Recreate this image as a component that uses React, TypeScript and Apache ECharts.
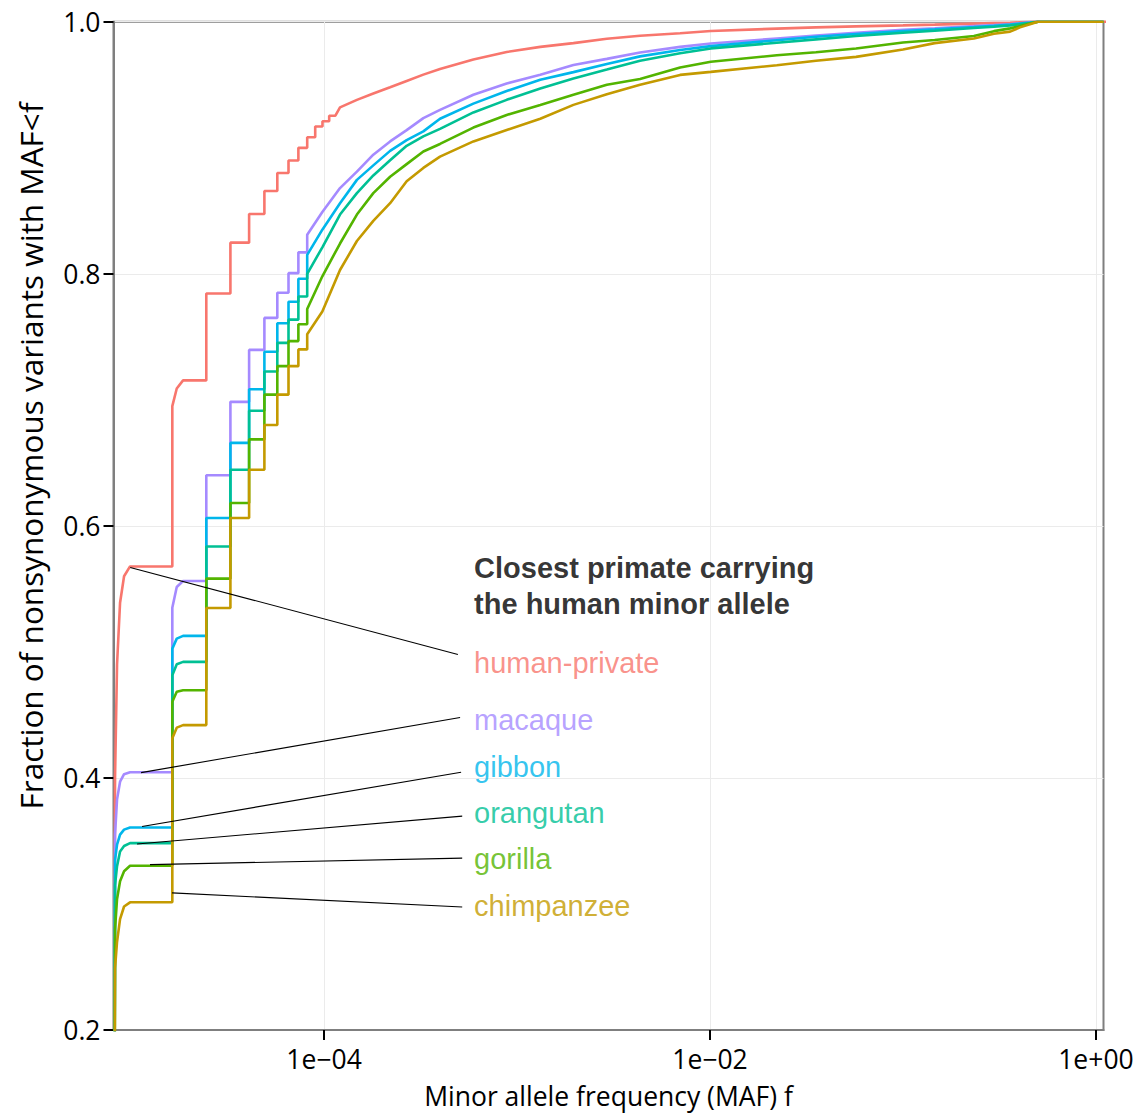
import React, { useEffect, useRef } from "react";
import * as echarts from "echarts";

// ---- categories / colours ----
const seriesNames = ["human-private", "macaque", "gibbon", "orangutan", "gorilla", "chimpanzee"];
const seriesColors = ["#F8766D", "#A58AFF", "#00B6EB", "#00C094", "#53B400", "#C49A00"];

// ---- axis ----
const X_MIN = 8.11e-6;
const X_MAX = 1.094;
const xTickValues = [1e-4, 1e-2, 1];
const xTickLabels = ["1e\u221204", "1e\u221202", "1e+00"];
const yTickValues = [0.2, 0.4, 0.6, 0.8, 1.0];
const xTitle = "Minor allele frequency (MAF) f";
const yTitle = "Fraction of nonsynonymous variants with MAF<f";

// ---- allele-count steps (k / N) ----
const stepFreqs = [8.18e-6, 1.636e-5, 2.454e-5, 3.272e-5, 4.09e-5, 4.908e-5, 5.726e-5, 6.544e-5, 7.362e-5, 8.18e-5, 9.0e-5, 9.816e-5, 1.0634e-4, 1.145e-4];

// first rise (singletons)
const riseFreqs = [8.26e-6, 8.46e-6, 8.77e-6, 9.2e-6, 9.88e-6];
const riseValues = [
  [0.40, 0.49, 0.539, 0.56, 0.5678],
  [0.355, 0.383, 0.397, 0.403, 0.4045],
  [0.335, 0.347, 0.355, 0.359, 0.3607],
  [0.315, 0.33, 0.3417, 0.346, 0.3483],
  [0.28, 0.304, 0.318, 0.326, 0.3303],
  [0.249, 0.27, 0.288, 0.298, 0.3013],
];

// knee after the doubleton step
const kneeFreqs = [1.725e-5, 1.86e-5];
const kneeTop = [0.695, 0.535, 0.5026, 0.4815, 0.4604, 0.4314];
const kneeMid = [0.709, 0.5515, 0.5105, 0.4902, 0.4683, 0.4399];

// plateau value after step k (k = 1..)
const plateaus = [
  [0.5678, 0.7154, 0.7844, 0.8247, 0.8474, 0.8657, 0.88, 0.8899, 0.8999, 0.9083, 0.9169, 0.921, 0.9254],
  [0.4045, 0.5562, 0.6402, 0.6984, 0.7396, 0.765, 0.7849, 0.8005, 0.817],
  [0.3607, 0.5127, 0.6062, 0.6658, 0.7084, 0.7381, 0.7608, 0.7778, 0.796],
  [0.3483, 0.4921, 0.5836, 0.6445, 0.6913, 0.7225, 0.7452, 0.7636, 0.782],
  [0.3303, 0.4696, 0.5581, 0.6181, 0.6686, 0.7041, 0.7267, 0.7466, 0.76],
  [0.3013, 0.4419, 0.5348, 0.6062, 0.6445, 0.68, 0.7041, 0.7267, 0.74],
];

// smooth upper part
const tailFreqs = [8.18e-5, 9.8e-5, 1.21e-4, 1.48e-4, 1.8e-4, 2.2e-4, 2.68e-4, 3.27e-4, 3.99e-4, 5.94e-4, 8.84e-4, 1.32e-3, 1.96e-3, 2.92e-3, 4.34e-3, 7.0e-3, 1.01e-2, 2.22e-2, 3.54e-2, 5.71e-2, 0.1, 0.146, 0.233, 0.296, 0.359, 0.404, 0.455, 0.5];
const tailHuman = [null, null, 0.932, 0.938, 0.943, 0.948, 0.953, 0.958, 0.9625, 0.97, 0.976, 0.98, 0.983, 0.9865, 0.9888, 0.9908, 0.9926, 0.9945, 0.9955, 0.9963, 0.9971, 0.9977, 0.9985, 0.9989, 0.9992, 0.9995, 0.9998, 1.0];
const tailMacaque = [0.831, 0.849, 0.868, 0.881, 0.8945, 0.905, 0.914, 0.9235, 0.93, 0.942, 0.951, 0.958, 0.9657, 0.9705, 0.9755, 0.98, 0.9827, 0.9867, 0.989, 0.9912, 0.9935, 0.9947, 0.9965, 0.9973, 0.998, 0.9988, 0.9995, 1.0];
const tailGibbon = [0.815, 0.835, 0.856, 0.8745, 0.886, 0.8975, 0.906, 0.913, 0.923, 0.935, 0.945, 0.954, 0.96, 0.9665, 0.9725, 0.9776, 0.9806, 0.9853, 0.988, 0.9902, 0.9925, 0.9939, 0.9958, 0.9968, 0.9977, 0.9985, 0.9993, 1.0];
const tailOrangutan = [0.8, 0.821, 0.847, 0.864, 0.878, 0.89, 0.9015, 0.909, 0.915, 0.928, 0.938, 0.947, 0.955, 0.962, 0.969, 0.975, 0.9788, 0.9833, 0.986, 0.9886, 0.9912, 0.9928, 0.995, 0.996, 0.997, 0.998, 0.999, 1.0];
const tailGorilla = [0.772, 0.798, 0.824, 0.847, 0.864, 0.877, 0.887, 0.897, 0.903, 0.916, 0.926, 0.934, 0.942, 0.95, 0.9545, 0.9636, 0.9682, 0.9734, 0.9758, 0.9788, 0.9835, 0.9855, 0.9886, 0.9925, 0.9947, 0.9965, 0.9985, 1.0];
const tailChimp = [0.752, 0.77, 0.803, 0.826, 0.842, 0.856, 0.8734, 0.884, 0.893, 0.905, 0.914, 0.923, 0.934, 0.9425, 0.95, 0.9578, 0.9602, 0.9655, 0.969, 0.9721, 0.978, 0.983, 0.9867, 0.9905, 0.9921, 0.9955, 0.998, 1.0];
const tailValues = [tailHuman, tailMacaque, tailGibbon, tailOrangutan, tailGorilla, tailChimp];
const endFreqs = [1.2, X_MAX, X_MAX, X_MAX, X_MAX, X_MAX];

// ---- annotation ----
const titleText = "Closest primate carrying\nthe human minor allele";
const titleFreq = 5.99e-4;
const titleValue = 0.5526;
const labelFreq = 5.99e-4;
const labelValues = [0.491, 0.4456, 0.4084, 0.372, 0.3356, 0.2984];
const leaderStartFreqs = [9.9e-6, 1.127e-5, 1.14e-5, 1.074e-5, 1.254e-5, 1.63e-5];
const leaderStartValues = [0.567, 0.4042, 0.3615, 0.3476, 0.3312, 0.3088];
const leaderEndFreqs = [4.94e-4, 5.07e-4, 5.13e-4, 5.2e-4, 5.2e-4, 5.2e-4];
const leaderEndValues = [0.498, 0.448, 0.4045, 0.3697, 0.3364, 0.2976];

const AXIS_FONT = "Open Sans";
const ANNOT_FONT = "Liberation Sans";

function buildCurve(i: number): number[][] {
  const pts: number[][] = [];
  const P = plateaus[i];
  pts.push([stepFreqs[0], i === 0 ? 0.2 : 0]);
  riseFreqs.forEach((f, j) => pts.push([f, riseValues[i][j]]));
  pts.push([stepFreqs[1], P[0]]);
  pts.push([stepFreqs[1], kneeTop[i]]);
  pts.push([kneeFreqs[0], kneeMid[i]]);
  pts.push([kneeFreqs[1], P[1]]);
  for (let k = 2; k < P.length; k++) {
    pts.push([stepFreqs[k], P[k - 1]]);
    pts.push([stepFreqs[k], P[k]]);
  }
  const fEnd = stepFreqs[P.length];
  pts.push([fEnd, P[P.length - 1]]);
  tailFreqs.forEach((f, j) => {
    const v = tailValues[i][j];
    if (v != null && f >= fEnd) pts.push([f, v]);
  });
  pts.push([endFreqs[i], 1]);
  return pts;
}

export default function App() {
  const ref = useRef<HTMLDivElement>(null);
  useEffect(() => {
    document.body.style.margin = "0";
    if (!ref.current) return;
    const chart = echarts.init(ref.current, undefined, { renderer: "svg" });

    const curveSeries = seriesNames.map((name, i) => ({
      type: "line",
      name,
      data: buildCurve(i),
      showSymbol: false,
      symbol: "none",
      clip: i !== 0,
      silent: true,
      lineStyle: { color: seriesColors[i], width: 2.6 },
      z: 3 + i,
    }));

    const leaderSeries = seriesNames.map((name, i) => ({
      type: "line",
      name: "leader-" + name,
      data: [
        [leaderStartFreqs[i], leaderStartValues[i]],
        [leaderEndFreqs[i], leaderEndValues[i]],
      ],
      symbol: "none",
      silent: true,
      lineStyle: { color: "#000", width: 1.1 },
      z: 20,
    }));

    const labelSeries = seriesNames.map((name, i) => ({
      type: "scatter",
      name: "label-" + name,
      data: [[labelFreq, labelValues[i]]],
      symbolSize: 0,
      silent: true,
      z: 21,
      label: {
        show: true,
        position: "right",
        distance: 0,
        formatter: name,
        color: seriesColors[i],
        fontSize: 29,
        fontFamily: ANNOT_FONT,
        align: "left",
        verticalAlign: "middle",
      },
    }));

    const titleSeries = {
      type: "scatter",
      name: "annot-title",
      data: [[titleFreq, titleValue]],
      symbolSize: 0,
      silent: true,
      z: 21,
      label: {
        show: true,
        position: "right",
        distance: 0,
        formatter: titleText,
        color: "#000",
        fontSize: 29,
        fontWeight: "bold",
        lineHeight: 36,
        fontFamily: ANNOT_FONT,
        align: "left",
        verticalAlign: "middle",
      },
    };

    const option: any = {
      animation: false,
      backgroundColor: "#ffffff",
      grid: {
        left: 113.5,
        right: 34.5,
        top: 21.7,
        bottom: 81.7,
        show: true,
        borderColor: "#7f7f7f",
        borderWidth: 2,
        backgroundColor: "transparent",
      },
      graphic: [
        {
          type: "text",
          x: 30,
          y: 456,
          rotation: Math.PI / 2,
          silent: true,
          style: {
            text: yTitle,
            fontFamily: AXIS_FONT,
            fontSize: 31.5,
            fill: "#000",
            align: "center",
            verticalAlign: "middle",
          },
        },
      ],
      xAxis: {
        type: "log",
        logBase: 10,
        min: X_MIN,
        max: X_MAX,
        name: xTitle,
        nameLocation: "middle",
        nameGap: 52,
        nameTextStyle: { fontFamily: AXIS_FONT, fontSize: 26.5, color: "#000" },
        axisLine: { show: true, onZero: false, lineStyle: { color: "#7f7f7f", width: 2 } },
        axisTick: { show: true, customValues: xTickValues, length: 10, lineStyle: { color: "#000", width: 2 } },
        axisLabel: {
          show: true,
          customValues: xTickValues,
          margin: 15,
          fontFamily: AXIS_FONT,
          fontSize: 26.5,
          color: "#000",
          formatter: (v: number) => {
            const idx = xTickValues.findIndex((t) => Math.abs(Math.log10(t) - Math.log10(v)) < 1e-6);
            return idx >= 0 ? xTickLabels[idx] : "";
          },
        },
        splitLine: { show: true, lineStyle: { color: "#ebebeb", width: 1 } },
      },
      yAxis: {
        type: "value",
        min: 0.2,
        max: 1.0,
        interval: 0.1,
        axisLine: { show: true, onZero: false, lineStyle: { color: "#7f7f7f", width: 2 } },
        axisTick: { show: true, customValues: yTickValues, length: 10, lineStyle: { color: "#000", width: 2 } },
        axisLabel: {
          show: true,
          customValues: yTickValues,
          margin: 13,
          fontFamily: AXIS_FONT,
          fontSize: 26.5,
          color: "#000",
          formatter: (v: number) => v.toFixed(1),
        },
        splitLine: { show: true, lineStyle: { color: "#ebebeb", width: 1 } },
      },
      series: [...curveSeries, ...leaderSeries, ...labelSeries, titleSeries],
    };

    chart.setOption(option);
    return () => chart.dispose();
  }, []);

  return <div ref={ref} style={{ width: 1138, height: 1114 }} />;
}
